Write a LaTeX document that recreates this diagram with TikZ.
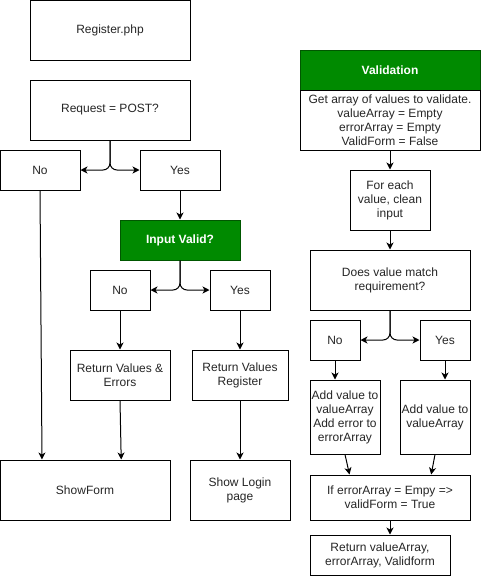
\documentclass[tikz,border=0pt]{standalone}
\usepackage{fontspec}
\setmainfont{Liberation Sans}
\usetikzlibrary{arrows.meta}
\definecolor{dgreen}{HTML}{008A00}
\definecolor{dgreenline}{HTML}{005700}
\begin{document}
\begin{tikzpicture}[x=1pt,y=-1pt,
  box/.style={draw=black,line width=1pt,fill=white,inner sep=1pt,align=center,
    font=\fontsize{12}{14}\selectfont,text=black!85},
  gbox/.style={box,fill=dgreen,draw=dgreenline,text=white,font=\fontsize{12}{14}\selectfont\bfseries},
  arr/.style={draw=black,line width=1pt,-{Stealth[length=7pt,width=7pt,inset=2pt]}},
  split/.style={arr,rounded corners=7pt}]
\useasboundingbox (0,0) rectangle (481,576);
% left flow
\node[box,minimum width=160,minimum height=60] (reg) at (110,30) {Register.php};
\node[box,minimum width=160,minimum height=60] (req) at (110,110) {Request = POST?};
\node[box,minimum width=80,minimum height=40] (no1) at (40,170) {No};
\node[box,minimum width=80,minimum height=40] (yes1) at (180,170) {Yes};
\node[gbox,minimum width=120,minimum height=40] (valid) at (180,240) {Input Valid?};
\node[box,minimum width=60,minimum height=40] (no2) at (120,290) {No};
\node[box,minimum width=60,minimum height=40] (yes2) at (240,290) {Yes};
\node[box,minimum width=100,minimum height=50] (rve) at (120,375) {Return Values \&\\Errors};
\node[box,minimum width=96,minimum height=50] (rvr) at (240,375) {Return Values\\Register};
\node[box,minimum width=170,minimum height=60] (show) at (85,490) {ShowForm};
\node[box,minimum width=100,minimum height=60] (login) at (240,490) {Show Login\\page};
% right flow
\node[gbox,minimum width=180,minimum height=40] (valh) at (390,70) {Validation};
\node[box,minimum width=180,minimum height=60] (valb) at (390,120) {Get array of values to validate.\\valueArray = Empty\\errorArray = Empty\\ValidForm = False};
\node[box,minimum width=80,minimum height=60] (each) at (390,200) {For each\\value, clean\\input};
\node[box,minimum width=160,minimum height=60] (does) at (390,280) {Does value match\\requirement?};
\node[box,minimum width=50,minimum height=40] (no3) at (335,340) {No};
\node[box,minimum width=50,minimum height=40] (yes3) at (445,340) {Yes};
\node[box,minimum width=70,minimum height=74] (addn) at (345,417) {Add value to\\valueArray\\Add error to\\errorArray};
\node[box,minimum width=70,minimum height=74] (addy) at (435,417) {Add value to\\valueArray};
\node[box,minimum width=160,minimum height=45] (iff) at (390,497.5) {If errorArray = Empy =>\\validForm = True};
\node[box,minimum width=140,minimum height=40] (ret) at (380,555) {Return valueArray,\\errorArray, Validform};
% connectors left
\draw[split] (req.south) |- (no1.east);
\draw[split] (req.south) |- (yes1.west);
\draw[arr] (no1.south) -- ([xshift=42.5pt]show.north west);
\draw[arr] (yes1.south) -- (valid.north);
\draw[split] (valid.south) |- (no2.east);
\draw[split] (valid.south) |- (yes2.west);
\draw[arr] (no2.south) -- (rve.north);
\draw[arr] (yes2.south) -- (rvr.north);
\draw[arr] (rve.south) -- ([xshift=121.7pt]show.north west);
\draw[arr] (rvr.south) -- (login.north);
% connectors right
\draw[arr] (valb.south) -- (each.north);
\draw[arr] (each.south) -- (does.north);
\draw[split] (does.south) |- (no3.east);
\draw[split] (does.south) |- (yes3.west);
\draw[arr] (no3.south) -- (no3.south |- addn.north);
\draw[arr] (yes3.south) -- (yes3.south |- addy.north);
\draw[arr] (addn.south) -- ([xshift=40pt]iff.north west);
\draw[arr] (addy.south) -- ([xshift=121.7pt]iff.north west);
\draw[arr] (iff.south) -- (iff.south |- ret.north);
\end{tikzpicture}
\end{document}
